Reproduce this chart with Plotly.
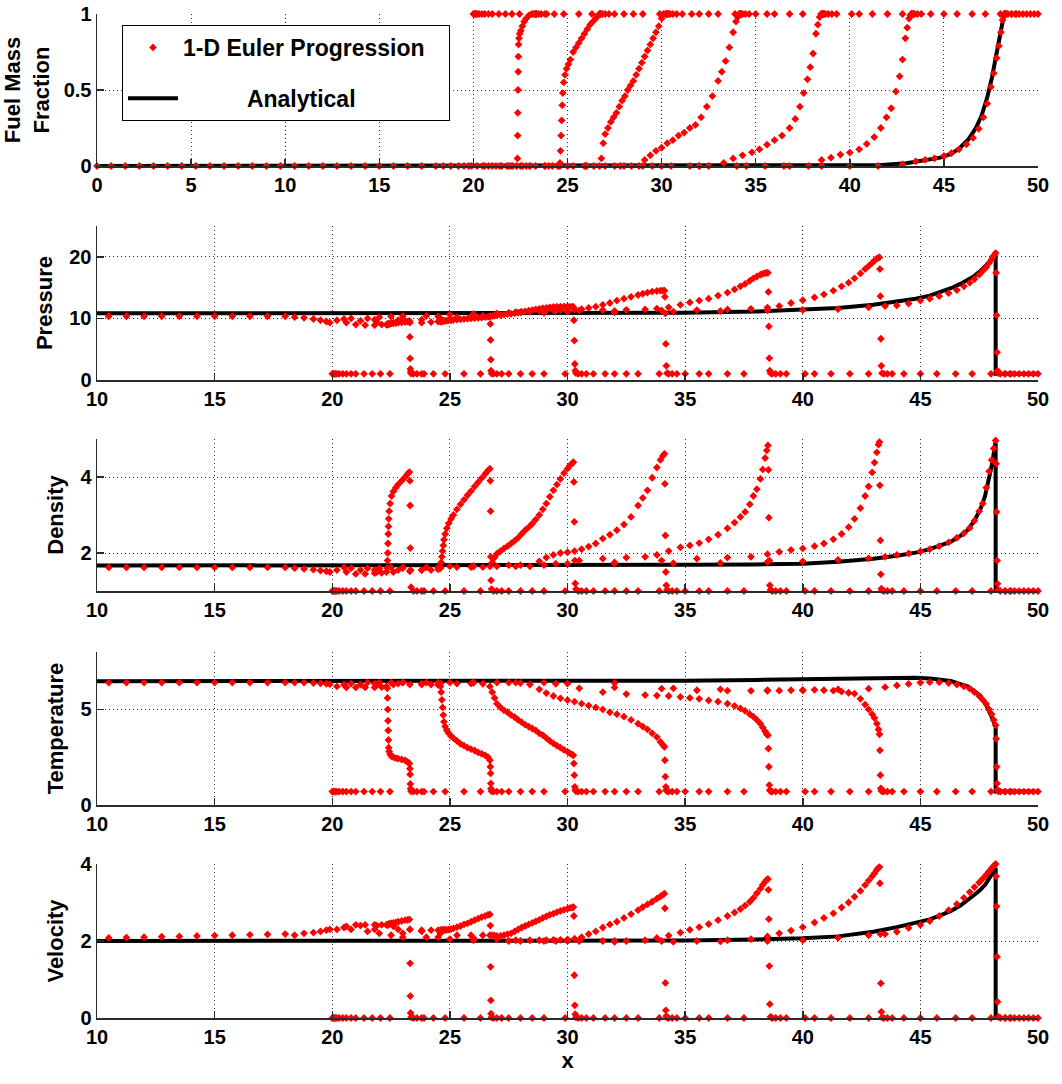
import plotly.graph_objects as go

# ---------------- data ----------------
# snapshot 0 : initial state (burned gas left of x=20, fresh mixture right of it)
s0_x = [0, 0.75, 1.5, 2.25, 3, 3.75, 4.5, 5.25, 6, 6.75, 7.5, 8.25, 9, 9.75, 10.5, 11.25, 12, 12.75,
        13.5, 14.25, 15, 15.75, 16.5, 17.25, 18, 18.4, 18.8, 19.2, 19.5, 19.75, 19.9,
        20.0, 20.05, 20.1, 20.15, 20.2, 20.3, 20.45, 20.6, 20.8, 21.0, 21.35, 21.7, 22.05, 22.45,
        23.9, 24.3, 24.8, 25.6, 26.3, 27.5, 28.0, 28.5, 29.0, 29.9, 31.1, 31.6, 32.0, 32.5, 33.0, 33.9,
        35.0, 35.6, 36.0, 36.8, 37.5, 39.3, 40.1, 40.5, 41.2, 42.0, 42.8, 44.3, 45.0, 45.7, 46.5, 47.2,
        48.0, 48.6, 48.8, 49.0, 49.2, 49.4, 49.6, 49.8, 50.0]
s0_Y = [0, 0, 0, 0, 0, 0, 0, 0, 0, 0, 0, 0, 0, 0, 0, 0, 0, 0,
        0, 0, 0, 0, 0, 0, 0, 0, 0, 0, 0, 0, 0,
        1, 1, 1, 1, 1, 1, 1, 1, 1, 1, 1, 1, 1, 1,
        1, 1, 1, 1, 1, 1, 1, 1, 1, 1, 1, 1, 1, 1, 1, 1,
        1, 1, 1, 1, 1, 1, 1, 1, 1, 1, 1, 1, 1, 1, 1, 1,
        1, 1, 1, 1, 1, 1, 1, 1, 1]
s0_p = [10.35, 10.35, 10.35, 10.35, 10.35, 10.35, 10.35, 10.35, 10.35, 10.35, 10.35, 10.35, 10.35, 10.35,
        10.35, 10.35, 10.35, 10.35, 10.35, 10.35, 10.35, 10.35, 10.35, 10.35, 10.35, 10.2, 10.1, 9.9, 9.7, 9.5, 9.3,
        1, 1, 1, 1, 1, 1, 1, 1, 1, 1, 1, 1, 1, 1,
        1, 1, 1, 1, 1, 1, 1, 1, 1, 1, 1, 1, 1, 1, 1, 1,
        1, 1, 1, 1, 1, 1, 1, 1, 1, 1, 1, 1, 1, 1, 1, 1,
        1, 1, 1, 1, 1, 1, 1, 1, 1]
s0_rho = [1.62, 1.62, 1.62, 1.62, 1.62, 1.62, 1.62, 1.62, 1.62, 1.62, 1.62, 1.62, 1.62, 1.62,
          1.62, 1.62, 1.62, 1.62, 1.62, 1.62, 1.62, 1.62, 1.62, 1.62, 1.62, 1.6, 1.58, 1.56, 1.54, 1.52, 1.5,
          1, 1, 1, 1, 1, 1, 1, 1, 1, 1, 1, 1, 1, 1,
          1, 1, 1, 1, 1, 1, 1, 1, 1, 1, 1, 1, 1, 1, 1, 1,
          1, 1, 1, 1, 1, 1, 1, 1, 1, 1, 1, 1, 1, 1, 1, 1,
          1, 1, 1, 1, 1, 1, 1, 1, 1]
s0_T = [6.4, 6.4, 6.4, 6.4, 6.4, 6.4, 6.4, 6.4, 6.4, 6.4, 6.4, 6.4, 6.4, 6.4,
        6.4, 6.4, 6.4, 6.4, 6.4, 6.4, 6.4, 6.4, 6.4, 6.4, 6.4, 6.4, 6.4, 6.38, 6.36, 6.34, 6.32,
        0.7, 0.7, 0.7, 0.7, 0.7, 0.7, 0.7, 0.7, 0.7, 0.7, 0.7, 0.7, 0.7, 0.7,
        0.7, 0.7, 0.7, 0.7, 0.7, 0.7, 0.7, 0.7, 0.7, 0.7, 0.7, 0.7, 0.7, 0.7, 0.7, 0.7,
        0.7, 0.7, 0.7, 0.7, 0.7, 0.7, 0.7, 0.7, 0.7, 0.7, 0.7, 0.7, 0.7, 0.7, 0.7, 0.7,
        0.7, 0.7, 0.7, 0.7, 0.7, 0.7, 0.7, 0.7, 0.7]
s0_u = [2.08, 2.08, 2.08, 2.08, 2.08, 2.08, 2.08, 2.08, 2.08, 2.08, 2.08, 2.08, 2.08, 2.08,
        2.08, 2.09, 2.1, 2.11, 2.12, 2.13, 2.14, 2.15, 2.16, 2.17, 2.18, 2.15, 2.2, 2.22, 2.25, 2.28, 2.3,
        0, 0, 0, 0, 0, 0, 0, 0, 0, 0, 0, 0, 0, 0,
        0, 0, 0, 0, 0, 0, 0, 0, 0, 0, 0, 0, 0, 0, 0, 0,
        0, 0, 0, 0, 0, 0, 0, 0, 0, 0, 0, 0, 0, 0, 0, 0,
        0, 0, 0, 0, 0, 0, 0, 0, 0]

# snapshot 1 : shock at x ~ 23.3
s1_x = [20.2, 20.6, 21.0, 21.4, 21.8, 22.1, 22.3,
        22.34, 22.35, 22.36, 22.37, 22.38, 22.39, 22.40,
        22.42, 22.46, 22.52, 22.6, 22.7, 22.8, 22.95, 23.1, 23.2, 23.28,
        23.3, 23.31, 23.32, 23.33, 23.35,
        23.45, 23.6, 23.8]
s1_Y = [0, 0, 0, 0, 0, 0, 0, 0.05, 0.2, 0.35, 0.5, 0.62, 0.72, 0.8,
        0.84, 0.87, 0.89, 0.92, 0.95, 0.97, 0.99, 1, 1, 1, 1, 1, 1, 1, 1, 1, 1, 1]
s1_p = [9.7, 9.3, 9.0, 8.9, 8.9, 9.0, 9.0, 9.0, 9.0, 9.05, 9.05, 9.1, 9.1, 9.1,
        9.1, 9.15, 9.2, 9.2, 9.25, 9.3, 9.35, 9.4, 9.5, 9.6, 7.0, 3.5, 1.8, 1.3, 1.05, 1, 1, 1]
s1_rho = [1.55, 1.5, 1.45, 1.45, 1.47, 1.48, 1.5, 1.6, 1.8, 2.0, 2.25, 2.5, 2.7, 2.9,
          3.1, 3.3, 3.5, 3.62, 3.72, 3.8, 3.9, 4.0, 4.08, 4.13, 3.9, 3.25, 2.13, 1.55, 1.1, 1, 1, 1]
s1_T = [6.2, 6.15, 6.15, 6.15, 6.15, 6.17, 6.2, 6.1, 5.6, 5.0, 4.4, 3.9, 3.4, 3.0,
        2.8, 2.65, 2.55, 2.5, 2.45, 2.42, 2.38, 2.33, 2.25, 2.17, 1.9, 1.6, 1.1, 0.85, 0.72, 0.7, 0.7, 0.7]
s1_u = [2.3, 2.38, 2.42, 2.42, 2.42, 2.42, 2.42, 2.42, 2.42, 2.42, 2.43, 2.43, 2.43, 2.43,
        2.44, 2.45, 2.46, 2.47, 2.48, 2.5, 2.52, 2.54, 2.55, 2.56, 2.3, 1.42, 0.57, 0.13, 0.02, 0, 0, 0]

# snapshot 2 : shock at x ~ 26.7
s2_x = [20.5, 21.2, 21.9, 22.6, 23.3, 23.8, 24.2, 24.5,
        24.6, 24.63, 24.66, 24.69, 24.72, 24.75,
        24.8, 24.87, 24.95, 25.05, 25.15, 25.3, 25.45, 25.6, 25.75, 25.9, 26.05, 26.2, 26.35, 26.5, 26.62, 26.7,
        26.72, 26.73, 26.74, 26.75, 26.77,
        26.85, 27.0, 27.2]
s2_Y = [0, 0, 0, 0, 0, 0, 0, 0, 0.02, 0.1, 0.2, 0.3, 0.4, 0.48,
        0.55, 0.6, 0.64, 0.67, 0.7, 0.75, 0.78, 0.81, 0.84, 0.87, 0.9, 0.93, 0.95, 0.97, 0.99, 1,
        1, 1, 1, 1, 1, 1, 1, 1]
s2_p = [9.9, 9.6, 9.4, 9.3, 9.3, 9.3, 9.4, 9.5, 9.5, 9.5, 9.55, 9.55, 9.6, 9.6,
        9.6, 9.65, 9.7, 9.7, 9.75, 9.8, 9.85, 9.9, 9.95, 10.0, 10.05, 10.1, 10.15, 10.2, 10.25, 10.3,
        9.1, 6.5, 3.3, 1.5, 1.05, 1, 1, 1]
s2_rho = [1.62, 1.55, 1.5, 1.5, 1.52, 1.55, 1.55, 1.57, 1.62, 1.75, 1.9, 2.05, 2.2, 2.35,
          2.5, 2.65, 2.78, 2.9, 3.0, 3.15, 3.28, 3.4, 3.52, 3.63, 3.75, 3.86, 3.97, 4.08, 4.17, 4.22,
          3.9, 3.1, 1.9, 1.28, 1.05, 1, 1, 1]
s2_T = [6.3, 6.3, 6.3, 6.3, 6.3, 6.3, 6.3, 6.28, 6.2, 5.9, 5.5, 5.1, 4.7, 4.35,
        4.1, 3.9, 3.75, 3.6, 3.5, 3.35, 3.2, 3.1, 3.0, 2.92, 2.85, 2.75, 2.68, 2.6, 2.5, 2.34,
        2.0, 1.65, 1.13, 0.85, 0.72, 0.7, 0.7, 0.7]
s2_u = [2.35, 2.4, 2.4, 2.38, 2.3, 2.28, 2.28, 2.28, 2.28, 2.28, 2.28, 2.28, 2.29, 2.29,
        2.29, 2.29, 2.3, 2.31, 2.33, 2.36, 2.39, 2.43, 2.46, 2.5, 2.54, 2.58, 2.62, 2.65, 2.68, 2.69,
        2.4, 1.33, 0.46, 0.11, 0.02, 0, 0, 0]

# snapshot 3 : shock at x ~ 30.3
s3_x = [20.8, 21.8, 22.8, 23.8, 24.6, 25.3, 25.9, 26.4, 26.7,
        26.8, 26.9, 27.0, 27.15, 27.3, 27.45, 27.6, 27.75, 27.9, 28.05, 28.2, 28.35, 28.5, 28.65, 28.8,
        28.95, 29.1, 29.25, 29.4, 29.55, 29.7, 29.85, 30.0, 30.1, 30.2, 30.25,
        30.27, 30.29, 30.31, 30.33, 30.36,
        30.45, 30.6, 30.8]
s3_Y = [0, 0, 0, 0, 0, 0, 0, 0, 0,
        0.05, 0.15, 0.21, 0.25, 0.29, 0.32, 0.35, 0.39, 0.43, 0.46, 0.5, 0.53, 0.56, 0.6, 0.64,
        0.68, 0.72, 0.76, 0.8, 0.84, 0.88, 0.92, 0.97, 1, 1, 1,
        1, 1, 1, 1, 1, 1, 1, 1]
s3_p = [10.0, 9.8, 9.7, 9.8, 10.0, 10.2, 10.3, 10.4, 10.4,
        10.4, 10.45, 10.5, 10.55, 10.6, 10.7, 10.75, 10.85, 10.95, 11.05, 11.15, 11.25, 11.35, 11.45, 11.55,
        11.65, 11.7, 11.8, 11.85, 11.9, 11.9, 11.95, 11.95, 11.9, 11.9, 11.85,
        9.7, 6.4, 2.6, 1.5, 1.1, 1, 1, 1]
s3_rho = [1.6, 1.55, 1.55, 1.55, 1.6, 1.63, 1.63, 1.63, 1.65,
          1.75, 1.88, 1.98, 2.05, 2.12, 2.18, 2.25, 2.32, 2.4, 2.5, 2.6, 2.68, 2.77, 2.88, 3.0,
          3.15, 3.3, 3.48, 3.65, 3.8, 3.95, 4.1, 4.22, 4.3, 4.36, 4.39,
          3.87, 2.82, 1.8, 1.2, 1.05, 1, 1, 1]
s3_T = [6.35, 6.35, 6.35, 6.35, 6.35, 6.35, 6.35, 6.34, 6.2,
        5.9, 5.6, 5.3, 5.1, 4.95, 4.85, 4.7, 4.6, 4.45, 4.33, 4.2, 4.1, 4.0, 3.9, 3.75,
        3.65, 3.5, 3.35, 3.22, 3.1, 3.0, 2.88, 2.78, 2.7, 2.63, 2.6,
        2.17, 1.56, 0.95, 0.8, 0.72, 0.7, 0.7, 0.7]
s3_u = [2.3, 2.3, 2.3, 2.25, 2.2, 2.15, 2.15, 2.15, 2.15,
        2.15, 2.14, 2.13, 2.13, 2.15, 2.18, 2.2, 2.25, 2.3, 2.35, 2.39, 2.43, 2.47, 2.51, 2.55,
        2.6, 2.64, 2.68, 2.71, 2.75, 2.78, 2.81, 2.84, 2.86, 2.87, 2.88,
        2.65, 1.11, 0.33, 0.1, 0.02, 0, 0, 0]

# snapshot 4 : shock at x ~ 34.1
s4_x = [21.5, 23.0, 24.5, 26.0, 27.0, 27.8, 28.4,
        28.8, 29.1, 29.4, 29.7, 30.0, 30.3, 30.6, 30.9, 31.2, 31.5, 31.8, 32.1, 32.4, 32.7, 33.0,
        33.2, 33.4, 33.6, 33.8, 33.95, 34.05, 34.12,
        34.14, 34.16, 34.18, 34.2, 34.23,
        34.3, 34.45, 34.65]
s4_Y = [0, 0, 0, 0, 0, 0, 0,
        0, 0.04, 0.07, 0.1, 0.12, 0.15, 0.17, 0.2, 0.22, 0.25, 0.27, 0.32, 0.39, 0.46, 0.56,
        0.62, 0.69, 0.78, 0.88, 0.95, 0.98, 1,
        1, 1, 1, 1, 1, 1, 1, 1]
s4_p = [10.0, 10.0, 10.3, 10.6, 10.8, 11.0, 11.1,
        11.2, 11.3, 11.3, 11.35, 11.4, 11.45, 11.5, 11.7, 11.9, 12.2, 12.5, 12.9, 13.2, 13.5, 13.8,
        14.0, 14.2, 14.35, 14.45, 14.5, 14.5, 14.5,
        13.5, 10.8, 5.85, 2.3, 1.1, 1, 1, 1]
s4_rho = [1.6, 1.6, 1.62, 1.65, 1.65, 1.65, 1.65,
          1.78, 1.88, 1.95, 2.0, 2.02, 2.05, 2.1, 2.17, 2.25, 2.38, 2.48, 2.6, 2.75, 2.95, 3.25,
          3.45, 3.65, 3.98, 4.25, 4.45, 4.55, 4.61,
          3.82, 2.46, 1.5, 1.15, 1.03, 1, 1, 1]
s4_T = [6.4, 6.4, 6.4, 6.4, 6.4, 6.4, 6.3,
        6.05, 5.85, 5.7, 5.58, 5.48, 5.4, 5.3, 5.2, 5.1, 5.0, 4.85, 4.75, 4.62, 4.45, 4.25,
        4.1, 3.95, 3.75, 3.55, 3.3, 3.15, 3.04,
        2.34, 1.48, 0.95, 0.78, 0.72, 0.7, 0.7, 0.7]
s4_u = [2.25, 2.2, 2.1, 2.08, 2.05, 2.02, 2.02,
        2.02, 2.02, 2.03, 2.03, 2.04, 2.06, 2.1, 2.18, 2.25, 2.35, 2.43, 2.5, 2.6, 2.7, 2.8,
        2.88, 2.95, 3.02, 3.1, 3.16, 3.2, 3.23,
        2.85, 0.91, 0.2, 0.05, 0.01, 0, 0, 0]

# snapshot 5 : shock at x ~ 38.5
s5_x = [22.0, 24.0, 26.0, 28.0, 29.5, 30.5, 31.5, 32.5, 33.3,
        33.8, 34.3, 34.8, 35.2, 35.6, 36.0, 36.4, 36.8, 37.1, 37.35, 37.55, 37.75, 37.9, 38.05, 38.2,
        38.3, 38.4, 38.47, 38.52,
        38.54, 38.56, 38.58, 38.6, 38.63,
        38.7, 38.85, 39.05]
s5_Y = [0, 0, 0, 0, 0, 0, 0, 0, 0.02,
        0.05, 0.07, 0.09, 0.11, 0.14, 0.17, 0.2, 0.25, 0.31, 0.39, 0.48, 0.57, 0.65, 0.74, 0.87,
        0.93, 0.98, 1, 1,
        1, 1, 1, 1, 1, 1, 1, 1]
s5_p = [10.2, 10.4, 10.7, 11.0, 11.2, 11.3, 11.35, 11.4, 11.45,
        11.6, 11.8, 12.2, 12.6, 12.9, 13.2, 13.7, 14.2, 14.7, 15.2, 15.6, 16.1, 16.5, 16.8, 17.1,
        17.25, 17.35, 17.4, 17.4,
        14.3, 8.7, 3.55, 1.5, 1.1, 1, 1, 1]
s5_rho = [1.6, 1.62, 1.65, 1.68, 1.72, 1.8, 1.85, 1.88, 1.9,
          1.95, 2.05, 2.15, 2.2, 2.26, 2.36, 2.48, 2.65, 2.8, 2.95, 3.08, 3.28, 3.5, 3.68, 3.95,
          4.2, 4.5, 4.7, 4.83,
          4.19, 2.93, 1.8, 1.15, 1.03, 1, 1, 1]
s5_T = [6.4, 6.4, 6.4, 6.38, 6.34, 6.1, 5.9, 5.8, 5.75,
        5.72, 5.7, 5.65, 5.6, 5.55, 5.47, 5.4, 5.3, 5.18, 5.05, 4.92, 4.75, 4.62, 4.45, 4.25,
        4.05, 3.85, 3.7, 3.65,
        2.95, 2.0, 1.04, 0.78, 0.72, 0.7, 0.7, 0.7]
s5_u = [2.2, 2.1, 2.05, 2.0, 2.0, 2.0, 2.0, 2.0, 2.02,
        2.08, 2.14, 2.22, 2.29, 2.36, 2.44, 2.54, 2.65, 2.74, 2.83, 2.92, 3.02, 3.12, 3.24, 3.36,
        3.46, 3.54, 3.59, 3.61,
        3.33, 2.57, 1.35, 0.36, 0.03, 0, 0, 0]

# snapshot 6 : shock at x ~ 43.3
s6_x = [22.5, 25.0, 27.5, 30.0, 32.0, 34.0, 35.5, 36.8, 37.8,
        38.5, 39.0, 39.5, 40.0, 40.5, 40.9, 41.3, 41.65, 41.95, 42.2, 42.45, 42.65, 42.8, 42.95,
        43.05, 43.15, 43.22, 43.26,
        43.28, 43.3, 43.32, 43.34, 43.37,
        43.45, 43.6, 43.8]
s6_Y = [0, 0, 0, 0, 0, 0, 0, 0, 0,
        0.04, 0.055, 0.075, 0.088, 0.11, 0.145, 0.19, 0.25, 0.32, 0.38, 0.49, 0.59, 0.7, 0.84,
        0.91, 0.97, 0.99, 1,
        1, 1, 1, 1, 1, 1, 1, 1]
s6_p = [10.3, 10.6, 10.9, 11.1, 11.2, 11.3, 11.35, 11.45, 11.55,
        11.75, 12.0, 12.5, 12.95, 13.4, 13.9, 14.5, 15.2, 15.8, 16.5, 17.3, 18.0, 18.5, 19.0,
        19.4, 19.7, 19.85, 19.9,
        18.0, 13.6, 6.7, 2.3, 1.1, 1, 1, 1]
s6_rho = [1.62, 1.65, 1.68, 1.72, 1.75, 1.8, 1.85, 1.88, 1.9,
          1.97, 2.03, 2.08, 2.12, 2.18, 2.25, 2.36, 2.5, 2.68, 2.9, 3.18, 3.5, 3.75, 4.12,
          4.38, 4.65, 4.85, 4.92,
          3.78, 2.33, 1.44, 1.06, 1.02, 1, 1, 1]
s6_T = [6.4, 6.4, 6.4, 6.35, 6.15, 6.08, 6.0, 5.98, 5.97,
        5.97, 5.98, 6.0, 6.0, 6.02, 6.0, 5.98, 5.93, 5.87, 5.82, 5.55, 5.25, 5.0, 4.75,
        4.55, 4.25, 3.95, 3.7,
        2.86, 1.56, 0.87, 0.75, 0.72, 0.7, 0.7, 0.7]
s6_u = [2.15, 2.05, 2.0, 2.0, 2.0, 2.0, 2.0, 2.02, 2.05,
        2.12, 2.2, 2.27, 2.36, 2.48, 2.6, 2.72, 2.87, 3.0, 3.15, 3.3, 3.45, 3.57, 3.68,
        3.76, 3.85, 3.9, 3.92,
        3.5, 2.18, 0.9, 0.16, 0.01, 0, 0, 0]

# snapshot 7 : shock at x ~ 48.2
s7_x = [23.0, 26.0, 29.0, 32.0, 34.5, 36.5, 38.5, 40.0, 41.5, 42.8,
        43.5, 44.0, 44.5, 45.0, 45.4, 45.8, 46.2, 46.55, 46.85, 47.1, 47.3, 47.5, 47.65, 47.8,
        47.92, 48.03, 48.12, 48.2,
        48.22, 48.24, 48.26, 48.28, 48.31,
        48.4, 48.6, 48.85]
s7_Y = [0, 0, 0, 0, 0, 0, 0, 0, 0, 0.01,
        0.03, 0.04, 0.05, 0.066, 0.085, 0.11, 0.143, 0.185, 0.245, 0.32, 0.41, 0.52, 0.61, 0.71,
        0.79, 0.88, 0.96, 1,
        1, 1, 1, 1, 1, 1, 1, 1]
s7_p = [10.4, 10.7, 10.9, 11.0, 11.1, 11.2, 11.3, 11.35, 11.5, 11.8,
        12.0, 12.1, 12.4, 12.9, 13.2, 13.6, 14.1, 14.6, 15.2, 15.8, 16.4, 17.1, 17.7, 18.3,
        19.0, 19.6, 20.2, 20.6,
        17.4, 10.5, 4.5, 1.5, 1.1, 1, 1, 1]
s7_rho = [1.62, 1.65, 1.68, 1.72, 1.73, 1.74, 1.76, 1.78, 1.82, 1.86,
          1.9, 1.95, 1.99, 2.04, 2.1, 2.18, 2.28, 2.4, 2.52, 2.66, 2.85, 3.1, 3.3, 3.72,
          4.15, 4.45, 4.75, 4.96,
          4.35, 3.08, 1.8, 1.19, 1.03, 1, 1, 1]
s7_T = [6.4, 6.4, 6.4, 6.38, 6.1, 6.05, 6.0, 6.0, 6.05, 6.08,
        6.16, 6.25, 6.33, 6.4, 6.42, 6.42, 6.38, 6.3, 6.2, 6.08, 5.9, 5.7, 5.5, 5.28,
        5.0, 4.75, 4.45, 4.17,
        3.47, 2.0, 1.13, 0.8, 0.72, 0.7, 0.7, 0.7]
s7_u = [2.1, 2.02, 2.0, 1.98, 1.98, 1.99, 2.0, 2.02, 2.08, 2.15,
        2.18, 2.24, 2.34, 2.42, 2.52, 2.65, 2.8, 2.96, 3.12, 3.27, 3.4, 3.52, 3.62, 3.72,
        3.81, 3.89, 3.95, 4.0,
        3.68, 2.9, 1.59, 0.42, 0.03, 0, 0, 0]

# analytical (CJ detonation + Taylor wave)
ana_x = [0, 30, 35, 38, 40, 41.5, 43, 44, 44.8, 45.4, 45.9, 46.3, 46.7, 47.0, 47.3, 47.55,
         47.75, 47.9, 48.05, 48.15, 48.2, 48.2, 50]
ana_Y = [0, 0, 0, 0, 0, 0.005, 0.018, 0.035, 0.055, 0.08, 0.125, 0.175, 0.25, 0.33, 0.45, 0.58,
         0.71, 0.81, 0.93, 0.99, 1.0, 1.0, 1.0]
ana_p = [10.8, 10.85, 10.9, 11.1, 11.35, 11.7, 12.2, 12.7, 13.2, 13.7, 14.3, 14.9, 15.6, 16.2,
         16.9, 17.7, 18.4, 19.0, 19.8, 20.3, 20.7, 1.0, 1.0]
ana_rho = [1.66, 1.67, 1.69, 1.7, 1.72, 1.77, 1.85, 1.93, 2.01, 2.1, 2.2, 2.3, 2.45, 2.6, 2.85,
           3.15, 3.5, 3.9, 4.35, 4.75, 4.97, 1.0, 1.0]
ana_T = [6.46, 6.47, 6.5, 6.54, 6.58, 6.62, 6.65, 6.66, 6.65, 6.62, 6.55, 6.48, 6.32, 6.2, 5.95,
         5.7, 5.35, 5.0, 4.55, 4.25, 4.08, 0.7, 0.7]
ana_u = [2.0, 2.0, 2.01, 2.04, 2.07, 2.12, 2.24, 2.36, 2.47, 2.56, 2.68, 2.78, 2.92, 3.05, 3.2,
         3.33, 3.46, 3.6, 3.75, 3.85, 3.9, 0.0, 0.0]

snapshots = [
    (s0_x, s0_Y, s0_p, s0_rho, s0_T, s0_u),
    (s1_x, s1_Y, s1_p, s1_rho, s1_T, s1_u),
    (s2_x, s2_Y, s2_p, s2_rho, s2_T, s2_u),
    (s3_x, s3_Y, s3_p, s3_rho, s3_T, s3_u),
    (s4_x, s4_Y, s4_p, s4_rho, s4_T, s4_u),
    (s5_x, s5_Y, s5_p, s5_rho, s5_T, s5_u),
    (s6_x, s6_Y, s6_p, s6_rho, s6_T, s6_u),
    (s7_x, s7_Y, s7_p, s7_rho, s7_T, s7_u),
]
for k, s in enumerate(snapshots):
    lens = [len(a) for a in s]
    if len(set(lens)) != 1:
        raise ValueError(f"snapshot {k} length mismatch: {lens}")
analytic = [ana_Y, ana_p, ana_rho, ana_T, ana_u]
for a in analytic:
    if len(a) != len(ana_x):
        raise ValueError("analytic length mismatch")

panel_titles = ["Fuel Mass<br>Fraction", "Pressure", "Density", "Temperature", "Velocity"]
panel_yrange = [[0, 1], [0, 25], [1, 5], [0, 8], [0, 4]]
panel_yticks = [[0, 0.5, 1], [0, 10, 20], [2, 4], [0, 5], [0, 2, 4]]
panel_yticktext = [["0", "0.5", "1"], ["0", "10", "20"], ["2", "4"], ["0", "5"], ["0", "2", "4"]]
panel_xrange = [[0, 50], [10, 50], [10, 50], [10, 50], [10, 50]]
panel_xticks = [[0, 5, 10, 15, 20, 25, 30, 35, 40, 45, 50],
                [10, 15, 20, 25, 30, 35, 40, 45, 50],
                [10, 15, 20, 25, 30, 35, 40, 45, 50],
                [10, 15, 20, 25, 30, 35, 40, 45, 50],
                [10, 15, 20, 25, 30, 35, 40, 45, 50]]

# ---------------- figure ----------------
# The page body margin is removed (see post_script), so the figure fills the window.
W, H = 1062, 1084
SX0, SX1 = 97, 1038          # plot area left/right in window pixels
SY0, SY1 = 14, 1018          # plot area top/bottom in window pixels
ML = SX0
MR = W - SX1
MT = SY0
MB = H - SY1
plot_h = SY1 - SY0
plot_w = SX1 - SX0
panel_px = [(14, 166), (226, 380), (439, 591), (652, 805), (864, 1018)]
domains = [[(SY1 - b) / plot_h, (SY1 - t) / plot_h] for (t, b) in panel_px]
domains = [[max(0.0, d0), min(1.0, d1)] for d0, d1 in domains]

FONT = "Liberation Sans"
AXC = "#2b2b2b"
GRIDC = "#2f2f2f"

fig = go.Figure()

for i in range(5):
    xs = "x" if i == 0 else f"x{i+1}"
    ys = "y" if i == 0 else f"y{i+1}"
    xmin = panel_xrange[i][0]
    # analytical line
    fig.add_trace(go.Scatter(
        x=ana_x, y=analytic[i], xaxis=xs, yaxis=ys, mode="lines",
        line=dict(color="black", width=4), name="\u00a0" * 10 + "Analytical",
        legendgroup="ana", legendrank=2, showlegend=(i == 0), hoverinfo="skip"))
    # numerical points
    px, py = [], []
    for s in snapshots:
        for xv, yv in zip(s[0], s[i + 1]):
            if xv >= xmin:
                px.append(xv)
                py.append(yv)
    fig.add_trace(go.Scatter(
        x=px, y=py, xaxis=xs, yaxis=ys, mode="markers",
        marker=dict(symbol="diamond", size=6, color="red", line=dict(width=0)),
        name="1-D Euler Progression" + "\u00a0" * 3, legendgroup="num", legendrank=1,
        showlegend=(i == 0), cliponaxis=False, hoverinfo="skip"))

axis_common = dict(
    showline=True, linecolor=AXC, linewidth=1.5, mirror=False,
    ticks="inside", ticklen=7, tickwidth=1.5, tickcolor=AXC,
    showgrid=True, gridcolor=GRIDC, gridwidth=1, griddash="1px,3px",
    zeroline=False, automargin=False, ticklabeloverflow="allow",
    tickfont=dict(family=FONT, size=20, color="black", weight="bold"),
)

layout = dict(
    width=W, height=H, template="none",
    paper_bgcolor="white", plot_bgcolor="white",
    margin=dict(l=ML, r=MR, t=MT, b=MB),
    showlegend=True,
    legend=dict(x=(122 - SX0) / plot_w, y=(SY1 - 25) / plot_h,
                xanchor="left", yanchor="top", bgcolor="white",
                bordercolor="black", borderwidth=1,
                font=dict(family=FONT, size=23, color="black", weight="bold"),
                tracegroupgap=18, itemwidth=50, traceorder="grouped"),
)
for i in range(5):
    xk = "xaxis" if i == 0 else f"xaxis{i+1}"
    yk = "yaxis" if i == 0 else f"yaxis{i+1}"
    ya = "y" if i == 0 else f"y{i+1}"
    xa = "x" if i == 0 else f"x{i+1}"
    xd = dict(axis_common, domain=[0, 1], anchor=ya, range=panel_xrange[i],
              tickmode="array", tickvals=panel_xticks[i],
              ticktext=[str(v) for v in panel_xticks[i]])
    if i == 4:
        xd["title"] = dict(text="x", font=dict(family=FONT, size=22, color="black", weight="bold"),
                           standoff=6)
    yd = dict(axis_common, domain=domains[i], anchor=xa, range=panel_yrange[i],
              tickmode="array", tickvals=panel_yticks[i], ticktext=panel_yticktext[i],
              title=dict(text=panel_titles[i],
                         font=dict(family=FONT, size=22, color="black", weight="bold"),
                         standoff=10))
    layout[xk] = xd
    layout[yk] = yd

fig.update_layout(**layout)
fig.write_html(
    "out.html",
    config={"displayModeBar": False, "staticPlot": True},
    post_script="document.body.style.margin='0';document.body.style.overflow='hidden';",
)
